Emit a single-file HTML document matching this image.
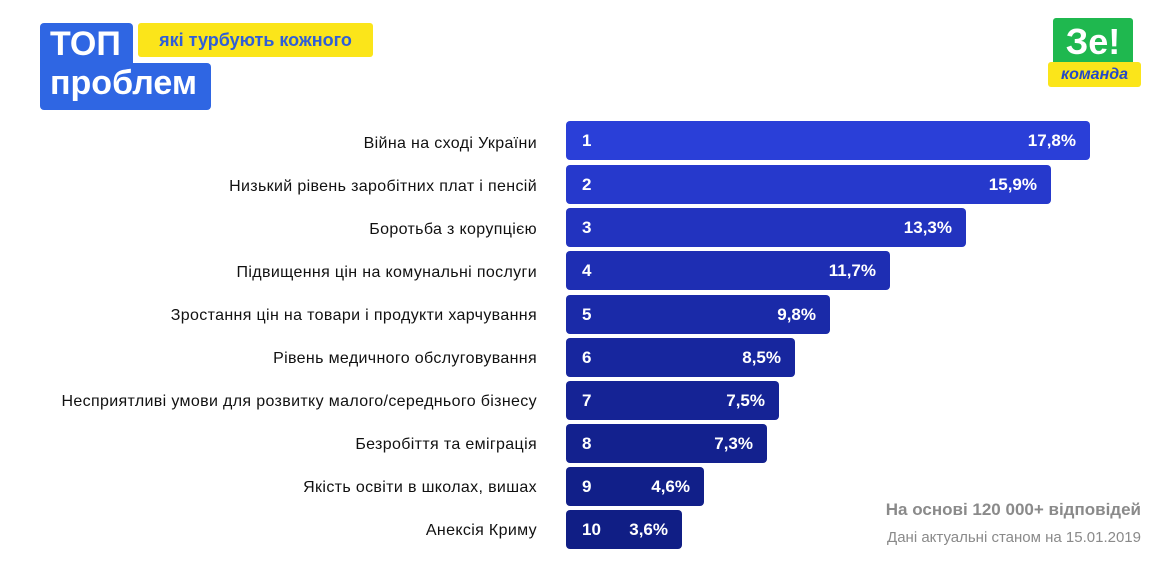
<!DOCTYPE html>
<html><head><meta charset="utf-8"><style>
body{margin:0;width:1168px;height:579px;background:#fff;position:relative;overflow:hidden;font-family:"Liberation Sans","DejaVu Sans",sans-serif}
.a{position:absolute}
.lbl{position:absolute;right:631px;font-size:16px;letter-spacing:0.35px;color:#111;white-space:nowrap;line-height:39px}
.bar{position:absolute;left:566px;height:39px;border-radius:4px;color:#fff;font-weight:bold;font-size:17px;line-height:39px}
.bar .n{position:absolute;left:16px}
.bar .p{position:absolute;right:14px}
</style></head><body>
<div class="a" style="left:40px;top:23px;width:93px;height:50px;background:#2f66e3;border-radius:4px"></div>
<div class="a" style="left:40px;top:63px;width:171px;height:47px;background:#2f66e3;border-radius:4px"></div>
<div class="a" style="left:50px;top:25px;color:#fff;font-weight:bold;font-size:34px;letter-spacing:0px">ТОП</div>
<div class="a" style="left:50px;top:64px;color:#fff;font-weight:bold;font-size:34px;letter-spacing:0px">проблем</div>
<div class="a" style="left:138px;top:23px;width:235px;height:34px;background:#fbe51a;border-radius:3px;color:#2f5ed8;font-weight:bold;font-size:18px;line-height:34px;text-align:center">які турбують кожного</div>
<div class="a" style="left:1053px;top:18px;width:80px;height:47px;background:#1fb84f;border-radius:3px;color:#fff;font-weight:bold;font-size:36px;line-height:47px;text-align:center">Зе!</div>
<div class="a" style="left:1048px;top:62px;width:93px;height:25px;background:#fbe51a;border-radius:3px;color:#2448c8;font-weight:bold;font-style:italic;font-size:16px;line-height:25px;text-align:center">команда</div>

<div class="lbl" style="top:124px">Війна на сході України</div>
<div class="lbl" style="top:167px">Низький рівень заробітних плат і пенсій</div>
<div class="lbl" style="top:210px">Боротьба з корупцією</div>
<div class="lbl" style="top:253px">Підвищення цін на комунальні послуги</div>
<div class="lbl" style="top:296px">Зростання цін на товари і продукти харчування</div>
<div class="lbl" style="top:339px">Рівень медичного обслуговування</div>
<div class="lbl" style="top:382px">Несприятливі умови для розвитку малого/середнього бізнесу</div>
<div class="lbl" style="top:425px">Безробіття та еміграція</div>
<div class="lbl" style="top:468px">Якість освіти в школах, вишах</div>
<div class="lbl" style="top:511px">Анексія Криму</div>

<div class="bar" style="top:121px;width:524px;background:#2a3fd8"><span class="n">1</span><span class="p">17,8%</span></div>
<div class="bar" style="top:165px;width:485px;background:#2639cc"><span class="n">2</span><span class="p">15,9%</span></div>
<div class="bar" style="top:208px;width:400px;background:#2233bf"><span class="n">3</span><span class="p">13,3%</span></div>
<div class="bar" style="top:251px;width:324px;background:#1e2eb3"><span class="n">4</span><span class="p">11,7%</span></div>
<div class="bar" style="top:295px;width:264px;background:#1a2aa8"><span class="n">5</span><span class="p">9,8%</span></div>
<div class="bar" style="top:338px;width:229px;background:#17269e"><span class="n">6</span><span class="p">8,5%</span></div>
<div class="bar" style="top:381px;width:213px;background:#152395"><span class="n">7</span><span class="p">7,5%</span></div>
<div class="bar" style="top:424px;width:201px;background:#13218e"><span class="n">8</span><span class="p">7,3%</span></div>
<div class="bar" style="top:467px;width:138px;background:#111f89"><span class="n">9</span><span class="p">4,6%</span></div>
<div class="bar" style="top:510px;width:116px;background:#101e85"><span class="n">10</span><span class="p">3,6%</span></div>

<div class="a" style="right:27px;top:500px;font-size:17px;color:#8a8a8a;font-weight:bold">На основі 120 000+ відповідей</div>
<div class="a" style="right:27px;top:529px;font-size:15px;color:#8a8a8a">Дані актуальні станом на 15.01.2019</div>
</body></html>
